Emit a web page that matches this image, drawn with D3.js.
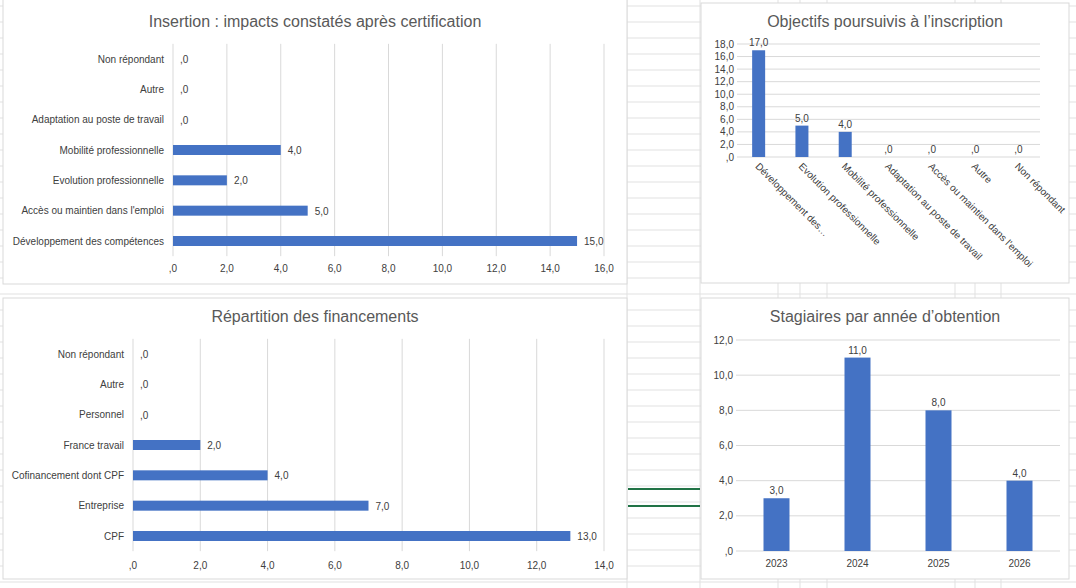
<!DOCTYPE html>
<html><head><meta charset="utf-8">
<script src="https://cdn.jsdelivr.net/npm/d3@7"></script>
<style>body{margin:0;background:#fff}svg{font-family:"Liberation Sans",Arial,sans-serif}</style>
</head><body><svg id="c" width="1076" height="588"></svg>
<script>
const insertionCats = ["Non répondant","Autre","Adaptation au poste de travail","Mobilité professionnelle","Evolution professionnelle","Accès ou maintien dans l'emploi","Développement des compétences"];
const insertionVals = [0,0,0,4,2,5,15];
const financeCats = ["Non répondant","Autre","Personnel","France travail","Cofinancement dont CPF","Entreprise","CPF"];
const financeVals = [0,0,0,2,4,7,13];
const objCats = ["Développement des…","Evolution professionnelle","Mobilité professionnelle","Adaptation au poste de travail","Accès ou maintien dans l'emploi","Autre","Non répondant"];
const objVals = [17,5,4,0,0,0,0];
const yearCats = ["2023","2024","2025","2026"];
const yearVals = [3,11,8,4];

const fmt = v => v === 0 ? ",0" : v.toFixed(1).replace(".", ",");
const blue = "#4472c4", txt = "#404040", grid = "#d9d9d9";
const svg = d3.select("#c");

// spreadsheet background
const bg = svg.append("g");
for (let y = 6; y < 588; y += 16) bg.append("line").attr("x1",0).attr("x2",1076).attr("y1",y).attr("y2",y).attr("stroke","#e1e1e1");
[627,700,778,800,827,955,975,1001].forEach(x => bg.append("line").attr("x1",x).attr("x2",x).attr("y1",0).attr("y2",588).attr("stroke","#e1e1e1"));
[489,506].forEach(y => bg.append("line").attr("x1",628).attr("x2",700).attr("y1",y).attr("y2",y).attr("stroke","#217346").attr("stroke-width",2));

function box(x, y, w, h, title, ty) {
  svg.append("rect").attr("x",x).attr("y",y).attr("width",w).attr("height",h).attr("fill","#fff").attr("stroke","#d9d9d9");
  svg.append("text").attr("x",x+w/2).attr("y",ty).attr("text-anchor","middle").attr("font-size",16).attr("fill","#595959").text(title);
}

function hbar(cats, vals, max, x0, x1, yTop, yBot, tickY) {
  const x = d3.scaleLinear().domain([0,max]).range([x0,x1]);
  const step = (yBot - yTop) / (cats.length - 1);
  const y = d3.scalePoint().domain(cats).range([yTop, yBot]);
  const g = svg.append("g");
  x.ticks(max/2).forEach(t => {
    g.append("line").attr("x1",x(t)).attr("x2",x(t)).attr("y1",yTop-step/2).attr("y2",yBot+step/2).attr("stroke",grid);
    g.append("text").attr("x",x(t)).attr("y",tickY).attr("text-anchor","middle").attr("font-size",10).attr("fill",txt).text(fmt(t));
  });
  cats.forEach((c,i) => {
    g.append("text").attr("x",x0-9).attr("y",y(c)+3.5).attr("text-anchor","end").attr("font-size",10).attr("fill",txt).text(c);
    g.append("rect").attr("x",x0).attr("y",y(c)-5).attr("width",x(vals[i])-x0).attr("height",10).attr("fill",blue);
    g.append("text").attr("x",x(vals[i])+7).attr("y",y(c)+4).attr("font-size",10).attr("fill",txt).text(fmt(vals[i]));
  });
}

function vbar(cats, vals, max, tstep, x0, x1, y0, y1, bw, rotate) {
  const x = d3.scaleBand().domain(cats).range([x0,x1]);
  const y = d3.scaleLinear().domain([0,max]).range([y0,y1]);
  const g = svg.append("g");
  d3.range(0, max + 0.001, tstep).forEach(t => {
    g.append("line").attr("x1",x0).attr("x2",x1).attr("y1",y(t)).attr("y2",y(t)).attr("stroke",grid);
    g.append("text").attr("x",x0-3).attr("y",y(t)+3.5).attr("text-anchor","end").attr("font-size",10).attr("fill",txt).text(fmt(t));
  });
  cats.forEach((c,i) => {
    const cx = x(c) + x.bandwidth()/2;
    g.append("rect").attr("x",cx-bw/2).attr("y",y(vals[i])).attr("width",bw).attr("height",y0-y(vals[i])).attr("fill",blue);
    g.append("text").attr("x",cx).attr("y",y(vals[i])-4).attr("text-anchor","middle").attr("font-size",10).attr("fill",txt).text(fmt(vals[i]));
    if (rotate) g.append("text").attr("transform",`translate(${cx-4},${y0+10}) rotate(45)`).attr("font-size",10).attr("fill",txt).text(c);
    else g.append("text").attr("x",cx).attr("y",y0+16).attr("text-anchor","middle").attr("font-size",10).attr("fill",txt).text(c);
  });
}

box(3,-2,624,286,"Insertion : impacts constatés après certification",27);
hbar(insertionCats, insertionVals, 16, 173, 604, 59, 241, 272);

box(3,298,624,281,"Répartition des financements",322);
hbar(financeCats, financeVals, 14, 133, 604, 354, 536, 569);

box(701,3,368,280,"Objectifs poursuivis à l’inscription",27);
vbar(objCats, objVals, 18, 2, 737, 1040, 157, 44, 13, true);

box(701,298,368,281,"Stagiaires par année d’obtention",322);
vbar(yearCats, yearVals, 12, 2, 736, 1060, 551, 340, 26, false);
</script></body></html>
